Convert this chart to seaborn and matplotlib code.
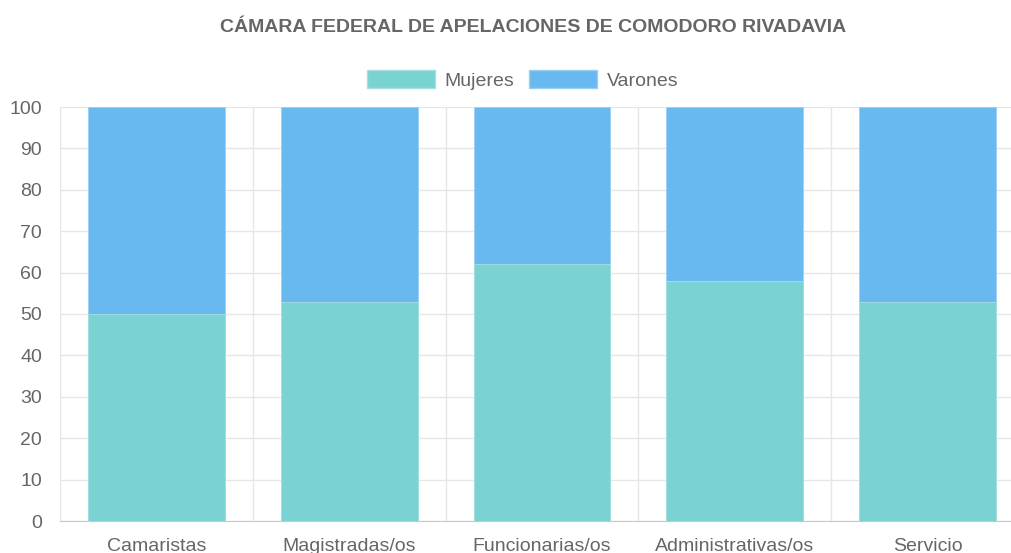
import matplotlib
matplotlib.use('Agg')
import matplotlib.pyplot as plt
import matplotlib.patches as mpatches
import seaborn as sns
import pandas as pd
import numpy as np

# Data (percentages)
categories = ['Camaristas', 'Magistradas/os', 'Funcionarias/os', 'Administrativas/os', 'Servicio']
mujeres = [50, 53, 62, 58, 53]
varones = [50, 47, 38, 42, 47]

teal = '#7ad2d2'
blue = '#67b9f0'
gray_text = '#666666'

df = pd.DataFrame({'categoria': categories, 'Mujeres': mujeres, 'Varones': varones})
df['total'] = df['Mujeres'] + df['Varones']

sns.set_style('white')
plt.rcParams['font.family'] = ['Liberation Sans', 'DejaVu Sans']

fig = plt.figure(figsize=(10.11, 5.53), dpi=100)
ax = fig.add_axes([60 / 1011, 1 - 521 / 553, 964 / 1011, (521 - 107) / 553])

# stacked: draw totals (varones on top) then mujeres over it
sns.barplot(data=df, x='categoria', y='total', color=blue, width=0.71,
            saturation=1, ax=ax, zorder=2, edgecolor='#9ccff5', linewidth=0.6)
sns.barplot(data=df, x='categoria', y='Mujeres', color=teal, width=0.71,
            saturation=1, ax=ax, zorder=3, edgecolor='#a8e0e0', linewidth=0.6)

ax.set_ylim(0, 100)
ax.set_xlim(-0.5, len(categories) - 0.5)
ax.set_yticks(np.arange(0, 101, 10))
ax.set_xlabel('')
ax.set_ylabel('')

# grid lines between categories and at every 10
ax.set_xticks(np.arange(-0.5, len(categories), 1), minor=True)
ax.grid(axis='x', which='minor', color='#e6e6e6', linewidth=1, zorder=0)
ax.grid(axis='y', which='major', color='#e6e6e6', linewidth=1, zorder=0)
ax.set_axisbelow(True)
for s in ['top', 'right', 'left']:
    ax.spines[s].set_visible(False)
ax.spines['bottom'].set_color('#c8c8c8')
ax.tick_params(axis='x', which='major', length=0, pad=12, labelsize=14, labelcolor=gray_text)
ax.tick_params(axis='x', which='minor', length=10, color='#e6e6e6', width=1)
ax.tick_params(axis='y', length=12, color='#e0e0e0', pad=1, labelsize=14, labelcolor=gray_text)

fig.text(0.527, 1 - 27 / 553, 'CÁMARA FEDERAL DE APELACIONES DE COMODORO RIVADAVIA',
         ha='center', va='center', fontsize=14, fontweight='bold', color=gray_text)

handles = [mpatches.Patch(facecolor=teal, edgecolor='#a8e0e0', label='Mujeres'),
           mpatches.Patch(facecolor=blue, edgecolor='#9ccff5', label='Varones')]
leg = fig.legend(handles=handles, loc='center', bbox_to_anchor=(0.517, 1 - 80 / 553),
                 ncol=2, frameon=False, fontsize=14, handlelength=3.5, handleheight=1.0,
                 handletextpad=0.5, columnspacing=0.77)
for t in leg.get_texts():
    t.set_color(gray_text)

fig.savefig('out.png', dpi=100)
